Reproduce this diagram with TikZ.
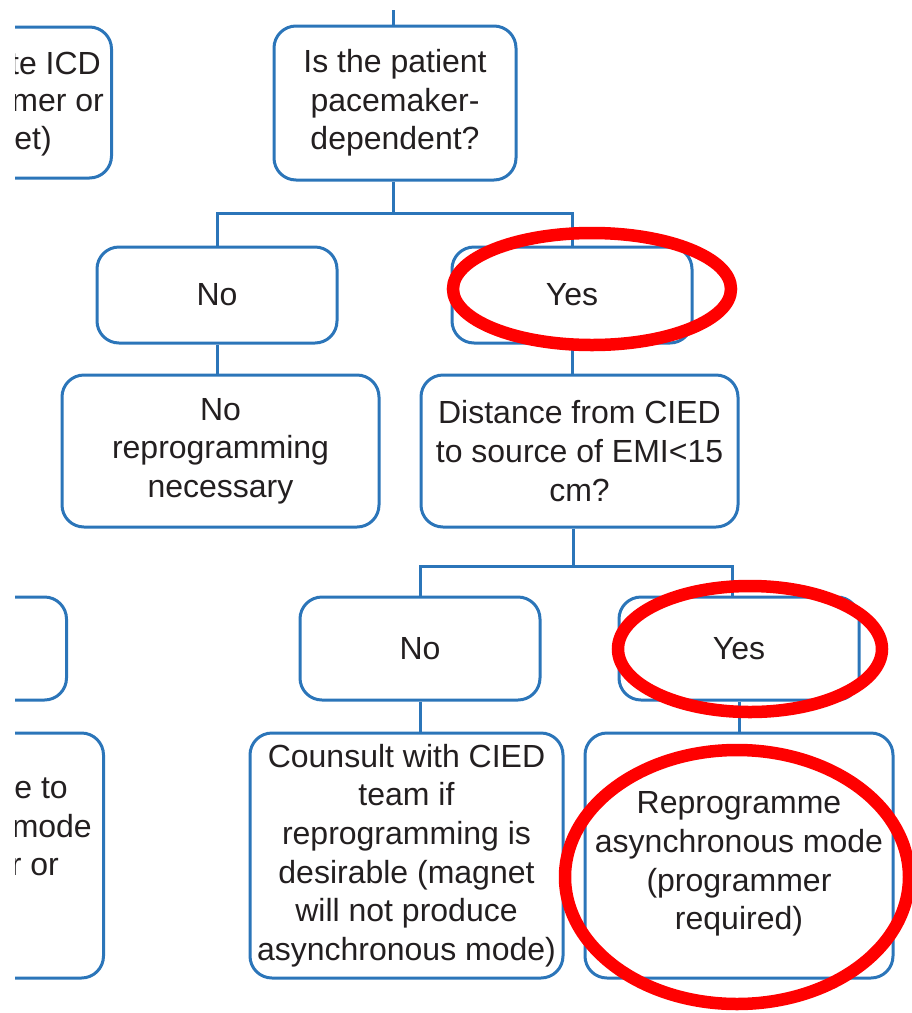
\documentclass[tikz,border=0pt]{standalone}
\usepackage{fontspec}
\setmainfont{Liberation Sans}
\definecolor{cblue}{HTML}{2B75B9}
\definecolor{ctext}{HTML}{231F20}
\tikzset{
  box/.style={draw=cblue, line width=3pt, rounded corners=22pt, align=center, inner sep=0pt,
    font=\fontsize{32}{38.6}\selectfont, text=ctext},
  plaintext/.style={align=center, inner sep=0pt, font=\fontsize{32}{38.6}\selectfont, text=ctext},
  frag/.style={inner sep=0pt, font=\fontsize{32}{38.6}\selectfont, text=ctext, anchor=base east},
  conn/.style={draw=cblue, line width=3pt},
  redring/.style={draw=red, line width=12.5pt}
}
\begin{document}
\begin{tikzpicture}[x=1pt,y=-1pt]
\useasboundingbox (0,0) rectangle (912,1013);
\begin{scope}
\clip (15,0) rectangle (912,1013);
% partial boxes on the left
\node[box, minimum width=200pt, minimum height=151pt, anchor=east] (tl) at (113,102.5) {};
\node[frag] (tl1) at (101,74) {te ICD};
\node[frag] (tl2) at (104,111) {mer or};
\node[frag] (tl3) at (52,149) {et)};
\node[box, minimum width=200pt, minimum height=103pt, anchor=east] (ml) at (68,648.5) {};
\node[box, minimum width=200pt, minimum height=245pt, anchor=east] (bl) at (105,855.5) {};
\node[frag] (bl1) at (68,798) {e to};
\node[frag] (bl2) at (92,837) {mode};
\node[frag] (bl3) at (59,875) {r or};
\end{scope}

% main boxes
\node[box, minimum width=242pt, minimum height=154pt] (q1) at (395,103) {Is the patient\\pacemaker-\\dependent?};
\node[box, minimum width=240pt, minimum height=96pt] (no1) at (217,295) {No};
\node[box, minimum width=240pt, minimum height=96pt] (yes1) at (572,295) {Yes};
\node[box, minimum width=317pt, minimum height=152pt] (nr) at (220.5,451) {No\\reprogramming\\necessary};
\node[box, minimum width=317pt, minimum height=152pt] (dist) at (579.5,451) {Distance from CIED\\to source of EMI<15\\cm?};
\node[box, minimum width=240pt, minimum height=103pt] (no2) at (420,648.5) {No};
\node[box, minimum width=240pt, minimum height=103pt] (yes2) at (739,648.5) {Yes};
\node[box, minimum width=313pt, minimum height=245pt] (cons) at (406.5,855.5) {Counsult with CIED\\team if\\reprogramming is\\desirable (magnet\\will not produce\\asynchronous mode)};
\node[box, minimum width=308pt, minimum height=245pt] (rep) at (739,855.5) {};
\node[plaintext] (reptext) at (739,864) {Reprogramme\\asynchronous mode\\(programmer\\required)};

% connectors
\coordinate (top) at (393,10);
\draw[conn] (top) -- (top |- q1.north);
\coordinate (s1) at (393,213);
\draw[conn] (s1 |- q1.south) -- (s1);
\draw[conn] (s1) -| (no1.north);
\draw[conn] (s1) -| (yes1.north);
\draw[conn] (no1.south) -- (nr.north -| no1.south);
\draw[conn] (yes1.south) -- (yes1.south |- dist.north);
\coordinate (s2) at (573,566);
\draw[conn] (s2 |- dist.south) -- (s2);
\draw[conn] (s2) -| (no2.north);
\draw[conn] (s2) -| ([xshift=-7pt]yes2.north);
\draw[conn] (no2.south) -- (no2.south |- cons.north);
\draw[conn] (yes2.south) -- (yes2.south |- rep.north);

% red highlight rings
\draw[redring] (592,289) ellipse [x radius=139pt, y radius=56pt];
\draw[redring] (750,649) ellipse [x radius=132pt, y radius=63pt];
\draw[redring] (737,877) ellipse [x radius=172pt, y radius=127pt];
\end{tikzpicture}
\end{document}
